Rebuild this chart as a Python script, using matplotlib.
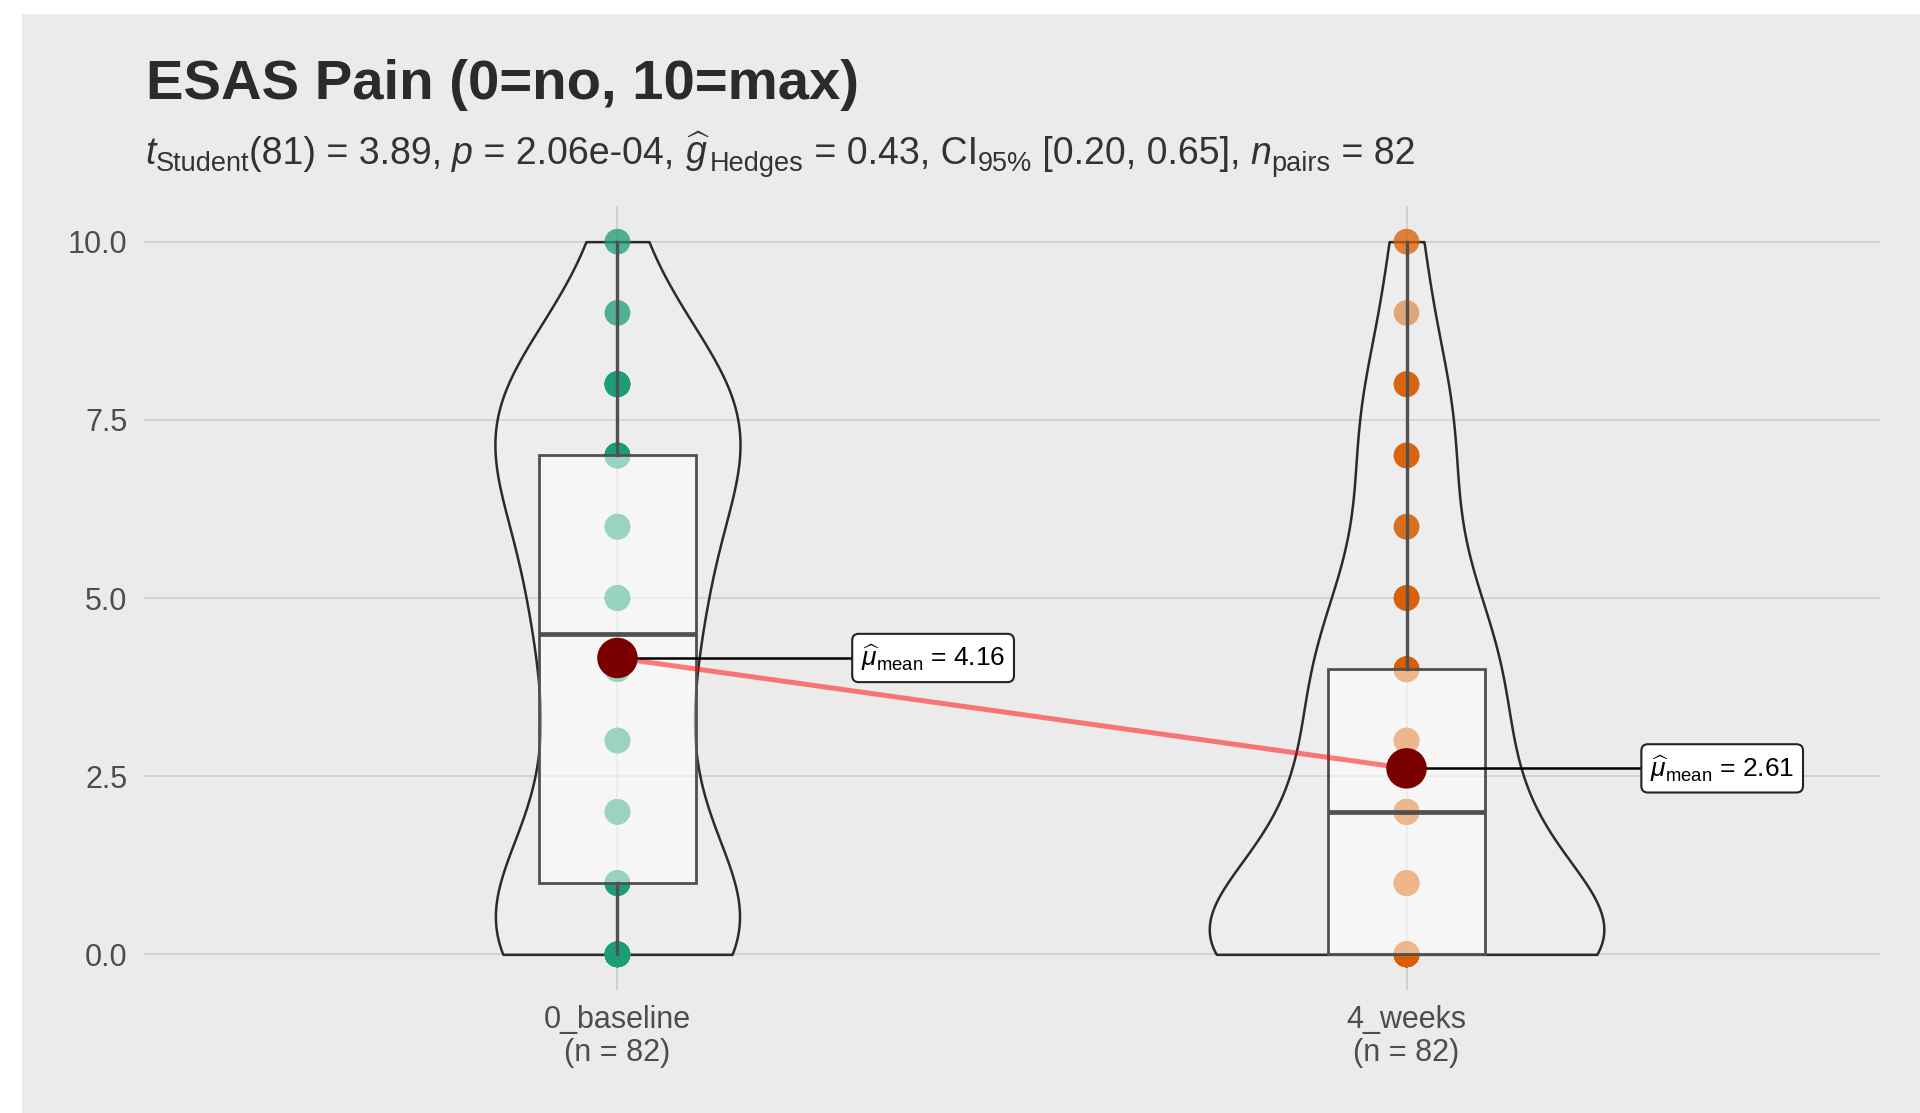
import numpy as np
import matplotlib
matplotlib.use('Agg')
import matplotlib.pyplot as plt
from matplotlib.patches import Rectangle

plt.rcParams['font.family'] = ['Liberation Sans', 'DejaVu Sans']
plt.rcParams['mathtext.fontset'] = 'custom'
plt.rcParams['mathtext.rm'] = 'Liberation Sans'
plt.rcParams['mathtext.it'] = 'Liberation Sans:italic'
plt.rcParams['mathtext.bf'] = 'Liberation Sans:bold'

# data: number of patients at each pain score
scores = list(range(11))
baseline_counts = [18, 8, 5, 5, 5, 8, 5, 12, 12, 2, 2]
weeks_counts = [30, 8, 10, 6, 9, 5, 3, 4, 4, 1, 2]
groups = ['0_baseline', '4_weeks']
colors = ['#1B9E77', '#D95F02']

title = 'ESAS Pain (0=no, 10=max)'
# subtitle pieces: (text, kind) - kind: n=normal, i=italic, s=subscript
subtitle = [('t', 'i'), ('Student', 's'), ('(81) = 3.89, ', 'n'), ('p', 'i'),
            (' = 2.06e-04, ', 'n'), (r'$\widehat{g}$', 'n'), ('Hedges', 's'),
            (' = 0.43, CI', 'n'), ('95%', 's'), (' [0.20, 0.65], ', 'n'),
            ('n', 'i'), ('pairs', 's'), (' = 82', 'n')]

data = [np.repeat(scores, baseline_counts).astype(float),
        np.repeat(scores, weeks_counts).astype(float)]


def kde(x, grid):
    # R's bw.nrd0
    q1, q3 = np.percentile(x, [25, 75])
    lo = min(np.std(x, ddof=1), (q3 - q1) / 1.34)
    bw = 0.9 * lo * len(x) ** (-0.2)
    z = (grid[:, None] - x[None, :]) / bw
    return np.exp(-0.5 * z ** 2).sum(axis=1) / (len(x) * bw * np.sqrt(2 * np.pi))


W, H = 1920, 1113
fig = plt.figure(figsize=(W / 100, H / 100), dpi=100)
fig.patch.set_facecolor('white')
fig.patches.append(Rectangle((22 / W, 0), 1, 1099 / H, transform=fig.transFigure,
                             facecolor='#EBEBEB', edgecolor='none', zorder=-10))

ax = fig.add_axes([144 / W, 1 - 990 / H, (1880 - 144) / W, (990 - 206) / H])
ax.set_facecolor('none')
for s in ax.spines.values():
    s.set_visible(False)

positions = [1, 2]
grids = [np.linspace(d.min(), d.max(), 512) for d in data]
dens = [kde(d, g) for d, g in zip(data, grids)]
dmax = max(d.max() for d in dens)

means = []
for pos, d, g, dn, c in zip(positions, data, grids, dens, colors):
    w = 0.25 * dn / dmax
    ax.fill_betweenx(g, pos - w, pos + w, facecolor=(1, 1, 1, 0.15),
                     edgecolor='#2B2B2B', lw=1.8, zorder=2)
    ax.scatter(np.full(len(d), pos), d, s=340, color=c, alpha=0.5,
               edgecolors='none', zorder=3)
    q1, med, q3 = np.percentile(d, [25, 50, 75])
    iqr = q3 - q1
    lo = d[d >= q1 - 1.5 * iqr].min()
    hi = d[d <= q3 + 1.5 * iqr].max()
    ax.add_patch(Rectangle((pos - 0.1, q1), 0.2, q3 - q1, facecolor=(1, 1, 1, 0.55),
                           edgecolor='#505050', lw=2.0, zorder=4))
    ax.plot([pos - 0.1, pos + 0.1], [med, med], color='#505050', lw=3.4,
            solid_capstyle='butt', zorder=5)
    ax.plot([pos, pos], [q3, hi], color='#505050', lw=2.4, zorder=4)
    ax.plot([pos, pos], [lo, q1], color='#505050', lw=2.4, zorder=4)
    means.append(d.mean())

ax.plot(positions, means, color='red', alpha=0.5, lw=3.6, zorder=6)
for pos, m in zip(positions, means):
    ax.plot([pos, pos + 0.4], [m, m], color='black', lw=1.8, zorder=7)
    ax.scatter([pos], [m], s=850, color='#7A0000', edgecolors='none', zorder=8)
    ax.text(pos + 0.4, m, r'$\widehat{\mu}_{\mathrm{mean}}$ = %.2f' % m, fontsize=19,
            ha='center', va='center', color='black', zorder=9,
            bbox=dict(boxstyle='round,pad=0.33,rounding_size=0.25', fc='white',
                      ec='#222222', lw=1.5))

ax.set_xlim(0.4, 2.6)
ax.set_ylim(-0.5, 10.5)
ax.set_yticks([0, 2.5, 5, 7.5, 10])
ax.set_yticklabels(['0.0', '2.5', '5.0', '7.5', '10.0'])
ax.set_xticks(positions)
ax.set_xticklabels(['%s\n(n = %d)' % (g, len(d)) for g, d in zip(groups, data)],
                   linespacing=1.15)
ax.tick_params(axis='y', length=0, pad=12, labelsize=22, labelcolor='#4D4D4D')
ax.tick_params(axis='x', length=0, pad=10.5, labelsize=22, labelcolor='#4D4D4D')
ax.grid(True, color='#CCCCCC', lw=1.2, zorder=0)
ax.set_axisbelow(True)

fig.text(146 / W, 1 - 99 / H, title, fontsize=40.5, fontweight='bold',
         color='#2B2B2B', ha='left', va='baseline')

# subtitle drawn piece by piece so subscripts can be sized like the original
renderer = fig.canvas.get_renderer()
x = 145.0
base = 164.0
for txt, kind in subtitle:
    size = 19.5 if kind == 's' else 27
    style = 'italic' if kind == 'i' else 'normal'
    y = base + (7 if kind == 's' else 0)
    t = fig.text(x / W, 1 - y / H, txt, fontsize=size, style=style,
                 color='#333333', ha='left', va='baseline')
    x += t.get_window_extent(renderer).width

fig.savefig('out.png', dpi=100)
